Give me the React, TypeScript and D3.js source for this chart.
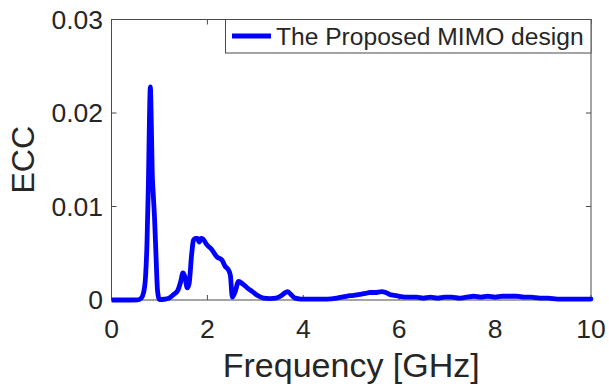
import React from "react";
import * as d3 from "d3";

const freqGHz = [
  0, 0.3, 0.55, 0.62, 0.67, 0.71, 0.74, 0.77, 0.79, 0.81, 0.83, 0.85, 0.87, 0.9, 0.93, 0.96, 1.0,
  1.1, 1.2, 1.3, 1.38, 1.44, 1.49, 1.53, 1.58, 1.62, 1.67, 1.71, 1.75, 1.79, 1.83, 1.87, 1.91,
  1.99, 2.09, 2.2, 2.3, 2.37, 2.44, 2.48, 2.52, 2.58, 2.65, 2.74, 2.83, 2.94, 3.04, 3.17, 3.3,
  3.43, 3.52, 3.6, 3.67, 3.74, 3.83, 3.95, 4.07, 4.3, 4.5, 4.7, 4.9, 5.05, 5.18, 5.3, 5.39,
  5.5, 5.63, 5.72, 5.8, 5.9, 6.01, 6.15, 6.36, 6.5, 6.65, 6.8, 6.95, 7.1, 7.25, 7.4, 7.55,
  7.7, 7.85, 8.0, 8.15, 8.3, 8.45, 8.6, 8.75, 8.93, 9.1, 9.3, 9.5, 9.7, 9.85, 10,
];
const eccValues = [
  0.0, 0.0, 0.00002, 0.0002, 0.0008, 0.0025, 0.006, 0.0125, 0.019, 0.0228, 0.019, 0.0135, 0.0114, 0.0085, 0.0045, 0.001, 0.00005,
  0.00008, 0.0002, 0.0006, 0.001, 0.0019, 0.0029, 0.0025, 0.0013, 0.0018, 0.0048, 0.0064, 0.0066, 0.0066, 0.0062, 0.0066, 0.0065,
  0.0059, 0.0054, 0.0046, 0.0043, 0.0036, 0.0032, 0.0026, 0.0003, 0.0009, 0.002, 0.0017, 0.0013, 0.0009, 0.0005, 0.0002, 0.00015,
  0.0002, 0.0004, 0.0007, 0.0009, 0.0006, 0.0002, 0.0001, 0.0001, 0.0001, 0.0001, 0.0002, 0.0004, 0.0005, 0.0006, 0.0007, 0.0008,
  0.0008, 0.0009, 0.0008, 0.0006, 0.0005, 0.0004, 0.0003, 0.0003, 0.0002, 0.0003, 0.0002, 0.0003, 0.0003, 0.0002, 0.0003, 0.0004,
  0.0003, 0.0004, 0.0003, 0.0004, 0.0004, 0.0004, 0.0003, 0.0003, 0.0002, 0.0002, 0.0001, 0.0001, 0.0001, 0.0001, 0.0001,
];
const xTicks = [0, 2, 4, 6, 8, 10];
const yTicks = [0, 0.01, 0.02, 0.03];
const xTickLabels = ["0", "2", "4", "6", "8", "10"];
const yTickLabels = ["0", "0.01", "0.02", "0.03"];
const seriesName = "The Proposed MIMO design";
const xLabel = "Frequency [GHz]";
const yLabel = "ECC";

const W = 609;
const H = 392;
const left = 111.5;
const right = 591;
const top = 19.5;
const bottom = 300;
const FONT = "'Liberation Sans', Arial, Helvetica, sans-serif";
const TXT = "#262626";
const AX = "#4a4a4a";

export default function App() {
  const x = d3.scaleLinear().domain([0, 10]).range([left, right]);
  const y = d3.scaleLinear().domain([0, 0.03]).range([bottom, top]);
  const pts: [number, number][] = freqGHz.map((f, i) => [f, eccValues[i]]);
  const line = d3
    .line<[number, number]>()
    .x((d) => x(d[0]))
    .y((d) => y(d[1]))
    .curve(d3.curveMonotoneX);
  const tl = 5;
  return (
    <svg width={W} height={H} style={{ position: "absolute", left: 0, top: 0, background: "#fff" }}>
      <defs>
        <clipPath id="plotclip">
          <rect x={left} y={top - 3} width={right - left + 3} height={bottom - top + 6} />
        </clipPath>
      </defs>
      <rect x={0} y={0} width={W} height={H} fill="#fff" />
      {xTicks.map((t) => (
        <g key={"xt" + t}>
          <line x1={x(t)} x2={x(t)} y1={bottom} y2={bottom - tl} stroke={AX} strokeWidth={1} />
          <line x1={x(t)} x2={x(t)} y1={top} y2={top + tl} stroke={AX} strokeWidth={1} />
        </g>
      ))}
      {yTicks.map((t) => (
        <g key={"yt" + t}>
          <line x1={left} x2={left + tl} y1={y(t)} y2={y(t)} stroke={AX} strokeWidth={1} />
          <line x1={right} x2={right - tl} y1={y(t)} y2={y(t)} stroke={AX} strokeWidth={1} />
        </g>
      ))}
      <rect x={left} y={top} width={right - left} height={bottom - top} fill="none" stroke={AX} strokeWidth={1} />
      <path
        d={line(pts) || ""}
        fill="none"
        stroke="#0000ff"
        strokeWidth={4.8}
        strokeLinejoin="round"
        strokeLinecap="round"
        clipPath="url(#plotclip)"
      />
      {xTicks.map((t, i) => (
        <text
          key={"xl" + t}
          x={x(t)}
          y={338}
          textAnchor="middle"
          fontFamily={FONT}
          fontSize={26.5}
          fill={TXT}
        >
          {xTickLabels[i]}
        </text>
      ))}
      {yTicks.map((t, i) => (
        <text
          key={"yl" + t}
          x={103}
          y={y(t)}
          dy="0.35em"
          textAnchor="end"
          fontFamily={FONT}
          fontSize={26.5}
          fill={TXT}
        >
          {yTickLabels[i]}
        </text>
      ))}
      <text x={(left + right) / 2} y={377} textAnchor="middle" fontFamily={FONT} fontSize={34} fill={TXT}>
        {xLabel}
      </text>
      <text
        transform={`translate(33.5,${(top + bottom) / 2}) rotate(-90)`}
        textAnchor="middle"
        fontFamily={FONT}
        fontSize={32}
        fill={TXT}
      >
        {yLabel}
      </text>
      <rect x={225.5} y={top} width={right - 225.5} height={33.5} fill="#fff" stroke={AX} strokeWidth={1} />
      <line x1={232} x2={271} y1={36} y2={36} stroke="#0000ff" strokeWidth={4.8} />
      <text x={276} y={45} fontFamily={FONT} fontSize={24.6} fill={TXT}>
        {seriesName}
      </text>
    </svg>
  );
}
